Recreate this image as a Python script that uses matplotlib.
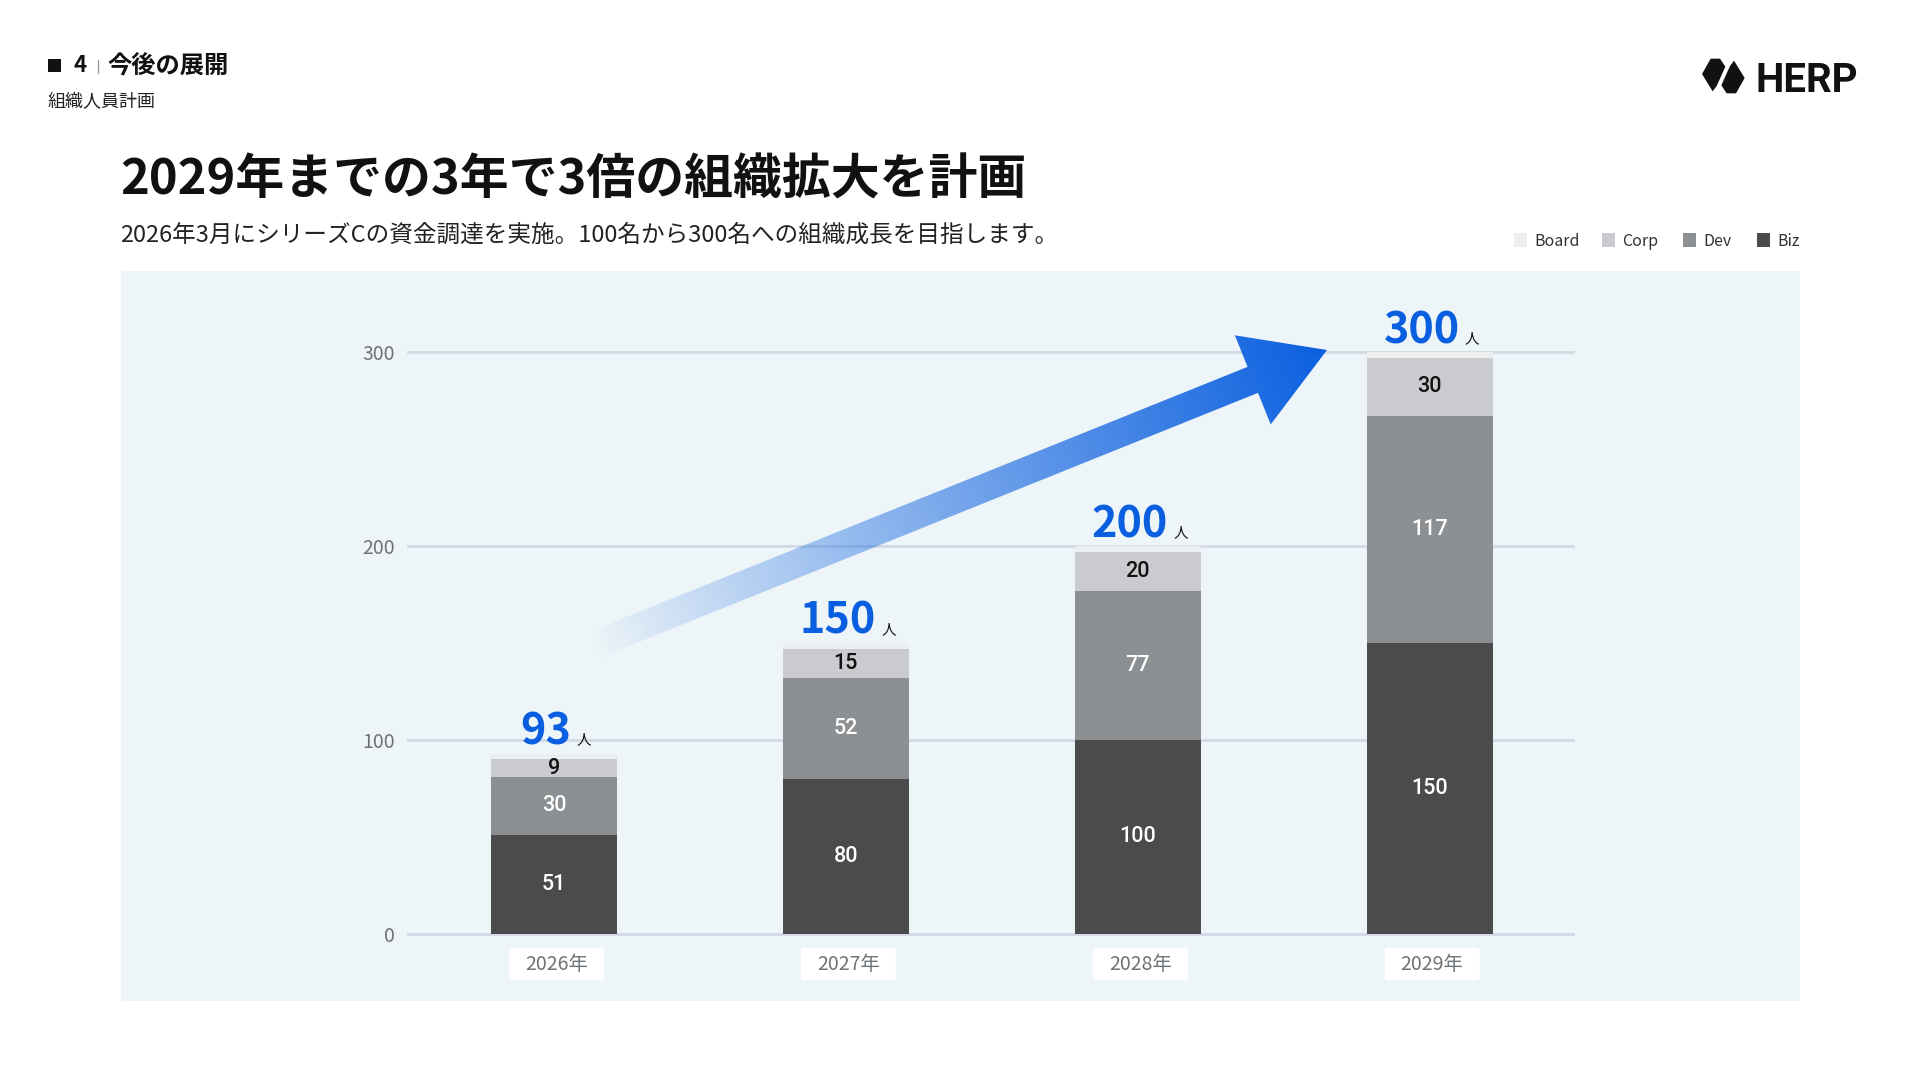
import numpy as np
import matplotlib
matplotlib.use('Agg')
import matplotlib.pyplot as plt
from matplotlib.patches import Rectangle, Polygon, FancyBboxPatch
from matplotlib.colors import to_rgb

plt.rcParams['font.family'] = ['Noto Sans CJK JP', 'DejaVu Sans']

# ---------------- data ----------------
years = ['2026年', '2027年', '2028年', '2029年']
biz = [51, 80, 100, 150]
dev = [30, 52, 77, 117]
corp = [9, 15, 20, 30]
board = [3, 3, 3, 3]
totals = [93, 150, 200, 300]
legend_names = ['Board', 'Corp', 'Dev', 'Biz']
yticks = [0, 100, 200, 300]

header_no = '4'
header_title = '今後の展開'
section = '組織人員計画'
title = '2029年までの3年で3倍の組織拡大を計画'
subtitle = '2026年3月にシリーズCの資金調達を実施。100名から300名への組織成長を目指します。'
unit = '人'
brand = 'HERP'

# ---------------- style ----------------
colors = {'Biz': '#4B4B4B', 'Dev': '#8D9092', 'Corp': '#C9CBCE', 'Board': '#EDEEF0'}
label_colors = {'Biz': 'white', 'Dev': 'white', 'Corp': '#111111'}
BLUE = '#0A5FE0'
PANEL = '#EEF5F8'
GRID = '#D3DAE6'
TICK = '#6E7378'

W, H = 1920, 1080
fig = plt.figure(figsize=(19.2, 10.8), dpi=100)
fig.patch.set_facecolor('white')


def Y(y):
    return H - y


bg = fig.add_axes([0, 0, 1, 1], zorder=0)
bg.set_xlim(0, W)
bg.set_ylim(0, H)
bg.axis('off')

# panel
bg.add_patch(Rectangle((121, Y(1001)), 1800 - 121, 1001 - 271, color=PANEL, lw=0))

# header
bg.add_patch(Rectangle((48, Y(72)), 13, 13, color='#111111', lw=0))
bg.text(73, Y(66), header_no, fontsize=16, weight='bold', color='#111111', va='center', ha='left')
bg.plot([98, 98], [Y(60), Y(73)], color='#9A9A9A', lw=1)
bg.text(107, Y(66), header_title, fontsize=17.5, weight='bold', color='#111111', va='center', ha='left')
bg.text(48, Y(102), section, fontsize=13, color='#222222', va='center', ha='left')

# title & subtitle
bg.text(120, Y(180), title, fontsize=35.2, weight='bold', color='#111111', va='center', ha='left')
bg.text(120, Y(235), subtitle, fontsize=17, color='#222222', va='center', ha='left')

# logo
def zp(pts):
    return [(1698 + zx / 3.0, Y(54 + zy / 3.0)) for zx, zy in pts]

left_piece = [(38, 14), (66, 14), (82, 38), (56, 96), (44, 112), (12, 60)]
right_piece = [(152 - a, 132 - b) for a, b in left_piece]
bg.add_patch(Polygon(zp(left_piece), closed=True, color='#111111', lw=0))
bg.add_patch(Polygon(zp(right_piece), closed=True, color='#111111', lw=0))
bg.text(1756, Y(92), brand, fontsize=29, weight='bold', color='#111111',
        family=['Roboto', 'DejaVu Sans'], va='baseline', ha='left')

# legend
leg_x = [1514, 1602, 1683, 1757]
for name, lx in zip(legend_names, leg_x):
    bg.add_patch(Rectangle((lx, Y(247)), 13, 14, color=colors[name], lw=0))
    bg.text(lx + 20, Y(241), name, fontsize=11.5, color='#333333', va='center', ha='left')

# ---------------- chart ----------------
ax = fig.add_axes([408 / W, (H - 934) / H, 1165 / W, (934 - 352) / H], zorder=1)
ax.set_facecolor('none')
x = np.arange(len(years))
bw = 0.432
bottom = np.zeros(len(years))
for name, vals in [('Biz', biz), ('Dev', dev), ('Corp', corp), ('Board', board)]:
    ax.bar(x, vals, bw, bottom=bottom, color=colors[name], lw=0, zorder=3)
    if name in label_colors:
        for i, v in enumerate(vals):
            ax.text(i, bottom[i] + v / 2.0, str(v), ha='center', va='center',
                    fontsize=15.5, weight='medium', family=['Roboto', 'DejaVu Sans'],
                    color=label_colors[name], zorder=4)
    bottom = bottom + np.array(vals)

ax.set_xlim(-0.500, 3.491)
ax.set_ylim(0, 300)
ax.set_yticks(yticks)
ax.set_xticks([])
ax.grid(axis='y', color=GRID, lw=2)
ax.set_axisbelow(True)
for gl in ax.get_ygridlines():
    gl.set_clip_on(False)
for s in ax.spines.values():
    s.set_visible(False)
ax.tick_params(axis='y', length=0, labelsize=14, labelcolor=TICK, pad=9.5)

fig.canvas.draw()
r = fig.canvas.get_renderer()

# x category boxes
for i, lab in enumerate(years):
    px, py = ax.transData.transform((i, 0))
    cx = px + 2.5
    cy = Y(964)
    bg.add_patch(FancyBboxPatch((cx - 47.5 + 3, cy - 16 + 3), 95 - 6, 32 - 6,
                                boxstyle='round,pad=3,rounding_size=3', fc='white', ec='none', zorder=2))
    bg.text(cx, cy, lab, ha='center', va='center', fontsize=14, color=TICK, zorder=3)

# total labels
ov = fig.add_axes([0, 0, 1, 1], zorder=3)
ov.set_xlim(0, W)
ov.set_ylim(0, H)
ov.axis('off')
for i, t in enumerate(totals):
    cx, cy = ax.transData.transform((i, t))
    num = ov.text(0, 0, str(t), fontsize=31, weight='bold', color=BLUE, ha='left', va='baseline')
    u = ov.text(0, 0, unit, fontsize=10.5, color='#111111', ha='left', va='baseline')
    wn = num.get_window_extent(r).width
    wu = u.get_window_extent(r).width
    gap = 5
    x0 = cx - (wn + gap + wu) / 2.0 + 2
    base = cy + 9
    num.set_position((x0, base))
    u.set_position((x0 + wn + gap, base))

# growth arrow (decoration)
tail = np.array([594.0, Y(645)])
tip = np.array([1327.0, Y(350)])
L = np.linalg.norm(tip - tail)
d = (tip - tail) / L
n = np.array([-d[1], d[0]])
sw, hl, hw = 28.0, 80.0, 96.0
base_c = tip - d * hl
poly = [tail + n * sw / 2, base_c + n * sw / 2, base_c + n * hw / 2, tip,
        base_c - n * hw / 2, base_c - n * sw / 2, tail - n * sw / 2]
poly = np.array(poly)
xmin, ymin = poly.min(axis=0) - 2
xmax, ymax = poly.max(axis=0) + 2
nx, ny = int(xmax - xmin), int(ymax - ymin)
gx, gy = np.meshgrid(np.linspace(xmin, xmax, nx), np.linspace(ymin, ymax, ny))
tt = ((gx - tail[0]) * d[0] + (gy - tail[1]) * d[1]) / L
alpha = np.clip(tt, 0, 1) ** 0.9
img = np.zeros((ny, nx, 4))
rgb = to_rgb(BLUE)
img[..., 0], img[..., 1], img[..., 2] = rgb
img[..., 3] = alpha
clip = Polygon(poly, closed=True, transform=ov.transData, fc='none', ec='none')
ov.add_patch(clip)
im = ov.imshow(img, extent=[xmin, xmax, ymin, ymax], origin='lower', interpolation='bilinear', aspect='auto')
im.set_clip_path(clip)
ov.set_xlim(0, W)
ov.set_ylim(0, H)

fig.savefig('out.png', dpi=100, facecolor='white')
